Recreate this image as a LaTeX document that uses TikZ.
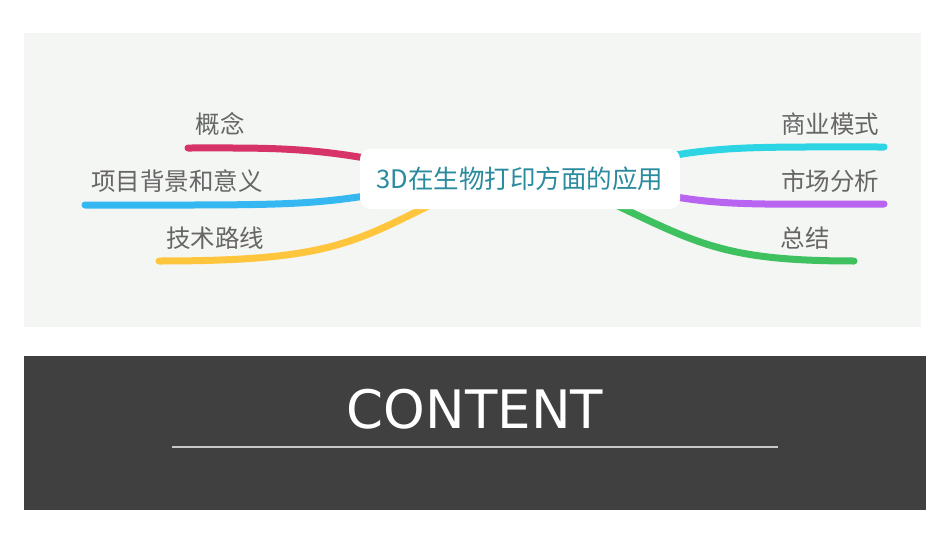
\documentclass[tikz,border=0pt]{standalone}
\usepackage{fontspec}
\setmainfont{DejaVu Sans}
\newfontfamily\cjkfont{Noto Sans CJK SC}
\definecolor{panelgray}{RGB}{244,246,243}
\definecolor{darkband}{RGB}{64,64,64}
\definecolor{rulegray}{RGB}{200,200,200}
\definecolor{labelgray}{RGB}{102,102,102}
\definecolor{centerteal}{RGB}{42,138,158}
\definecolor{brred}{RGB}{214,51,104}
\definecolor{brblue}{RGB}{53,184,242}
\definecolor{bryellow}{RGB}{255,197,61}
\definecolor{brcyan}{RGB}{45,212,227}
\definecolor{brpurple}{RGB}{185,100,240}
\definecolor{brgreen}{RGB}{62,193,94}
\tikzset{
  branch/.style={line width=7pt,line cap=round},
  leaf/.style={font=\cjkfont\fontsize{24.5}{24.5}\selectfont,text=labelgray,inner sep=0pt},
}

\begin{document}
\begin{tikzpicture}[x=1pt,y=-1pt]
            \useasboundingbox (0,0) rectangle (950,535);
            \fill[panelgray] (24,33) rectangle (921,327);
            \fill[darkband] (24,356) rectangle (926,510);
            % branch ends
            \coordinate (rA) at (365,158);
            \coordinate (rB) at (365,196);
            \coordinate (rC) at (428,206);
            \coordinate (rD) at (676,155);
            \coordinate (rE) at (676,197);
            \coordinate (rF) at (618,206);
            \coordinate (eA) at (188,148);
            \coordinate (eB) at (85,205);
            \coordinate (eC) at (159,261);
            \coordinate (eD) at (884,147);
            \coordinate (eE) at (884,204);
            \coordinate (eF) at (854,261);
            \draw[branch,brred] (rA) .. controls (300,147) and (260,148) .. (eA);
            \draw[branch,brblue] (rB) .. controls (300,206) and (260,205) .. (eB);
            \draw[branch,bryellow] (rC) .. controls (350,245) and (320,261) .. (eC);
            \draw[branch,brcyan] (rD) .. controls (730,146) and (770,147) .. (eD);
            \draw[branch,brpurple] (rE) .. controls (730,206) and (770,204) .. (eE);
            \draw[branch,brgreen] (rF) .. controls (700,245) and (730,261) .. (eF);
            % topic box
            \node[fill=white,rounded corners=10pt,minimum width=320pt,minimum height=60pt,text=centerteal,font=\cjkfont\fontsize{25.5}{25.5}\selectfont] (topic) at (520,179) {3D在生物打印方面的应用};
            \node[leaf] (gainian) at (220,124) {概念};
            \node[leaf] (beijing) at (177,181) {项目背景和意义};
            \node[leaf] (luxian) at (215,238) {技术路线};
            \node[leaf] (moshi) at (830,124) {商业模式};
            \node[leaf] (shichang) at (830,181) {市场分析};
            \node[leaf] (zongjie) at (805,238) {总结};
            % bottom band
            \node[text=white,font=\fontsize{53}{53}\selectfont,inner sep=0pt] (content) at (475,409) {CONTENT};
            \draw[rulegray,line width=1.2pt] (172,447) -- (778,447);
        \end{tikzpicture}
\end{document}
